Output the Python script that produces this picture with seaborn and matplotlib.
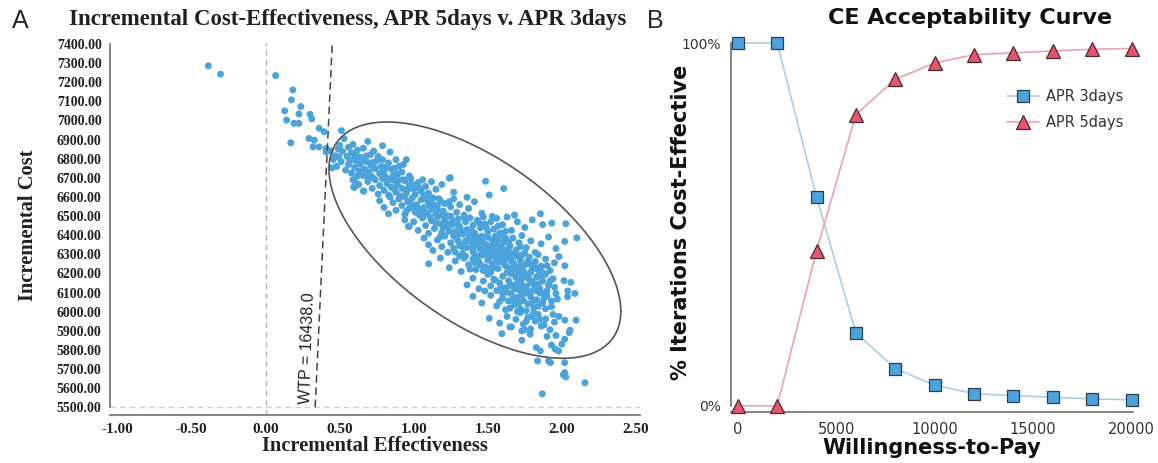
import numpy as np
import pandas as pd
import matplotlib
matplotlib.use("Agg")
import matplotlib.pyplot as plt
import seaborn as sns

# ---- Panel A: incremental cost / effectiveness iterations ----
pts_tail = [(-0.386, 7286), (-0.304, 7242), (0.068, 7235), (0.184, 7160), (0.175, 7108),
            (0.129, 7050), (0.238, 7073), (0.142, 7002), (0.192, 6985), (0.225, 6985),
            (0.225, 7034), (0.300, 7032), (0.312, 7008), (0.170, 6883), (0.293, 6906),
            (0.329, 6897), (0.320, 6862), (0.362, 6959), (0.395, 6941), (0.362, 6862),
            (0.410, 6854), (0.408, 6836), (0.438, 6841), (0.512, 6947), (0.458, 6796),
            (0.449, 6752), (0.493, 6810)]
pts_6800 = [(0.47, 6815), (0.49, 6850), (0.50, 6870), (0.52, 6838), (0.53, 6905), (0.55, 6812),
            (0.56, 6860), (0.58, 6830), (0.59, 6875), (0.61, 6820), (0.62, 6845), (0.64, 6808),
            (0.66, 6855), (0.69, 6890), (0.71, 6822), (0.73, 6840), (0.76, 6812), (0.79, 6868),
            (0.84, 6835), (0.57, 6790), (0.60, 6802)]
pts_6700 = [(0.48, 6760), (0.51, 6785), (0.54, 6740), (0.56, 6770), (0.58, 6725), (0.60, 6755),
            (0.61, 6790), (0.63, 6735), (0.64, 6770), (0.66, 6712), (0.67, 6745), (0.68, 6785),
            (0.70, 6730), (0.71, 6765), (0.72, 6705), (0.74, 6748), (0.75, 6790), (0.77, 6722),
            (0.78, 6760), (0.80, 6735), (0.81, 6705), (0.83, 6778), (0.85, 6745), (0.86, 6712),
            (0.88, 6795), (0.90, 6760), (0.92, 6730), (0.95, 6795), (0.97, 6710), (0.69, 6700),
            (0.65, 6795), (0.79, 6795), (0.87, 6750), (0.93, 6770), (0.62, 6708)]
pts_6600 = [(0.59, 6690), (0.60, 6650), (0.63, 6665), (0.66, 6630), (0.69, 6680), (0.72, 6645),
            (0.74, 6690), (0.76, 6615), (0.77, 6660), (0.79, 6695), (0.80, 6635), (0.82, 6670),
            (0.83, 6610), (0.85, 6650), (0.86, 6688), (0.88, 6625), (0.89, 6665), (0.91, 6605),
            (0.92, 6645), (0.94, 6685), (0.95, 6620), (0.97, 6660), (0.98, 6695), (1.00, 6640),
            (1.01, 6612), (1.03, 6675), (1.05, 6630), (1.06, 6690), (1.08, 6655), (1.10, 6620),
            (1.12, 6680), (1.15, 6640), (1.19, 6665), (1.24, 6698), (1.27, 6625), (0.84, 6600),
            (0.90, 6690), (0.96, 6640), (1.02, 6655), (1.07, 6610)]
pts_6500 = [(0.77, 6580), (0.80, 6545), (0.83, 6512), (0.86, 6570), (0.88, 6530), (0.90, 6590),
            (0.92, 6555), (0.94, 6508), (0.96, 6575), (0.97, 6540), (0.99, 6595), (1.01, 6520),
            (1.02, 6560), (1.04, 6505), (1.05, 6585), (1.07, 6545), (1.09, 6515), (1.10, 6570),
            (1.12, 6535), (1.13, 6595), (1.15, 6510), (1.16, 6555), (1.18, 6580), (1.20, 6525),
            (1.21, 6565), (1.23, 6502), (1.25, 6548), (1.27, 6590), (1.29, 6520), (1.31, 6560),
            (1.34, 6505), (1.37, 6540), (1.41, 6575), (1.46, 6515), (1.00, 6550), (1.08, 6590),
            (1.14, 6540), (1.19, 6505), (1.24, 6575), (0.95, 6525), (1.06, 6530), (1.11, 6552),
            (1.17, 6590), (1.36, 6598), (1.51, 6610), (1.485, 6682), (1.608, 6644), (1.247, 6701),
            (0.964, 6446), (0.595, 6652), (0.663, 6631), (0.603, 6679)]
pts_6400 = [(0.94, 6480), (0.97, 6445), (1.00, 6470), (1.03, 6425), (1.06, 6490), (1.08, 6450),
            (1.10, 6410), (1.12, 6475), (1.14, 6435), (1.16, 6495), (1.18, 6460), (1.19, 6415),
            (1.21, 6480), (1.23, 6440), (1.25, 6498), (1.26, 6455), (1.28, 6420), (1.30, 6485),
            (1.31, 6445), (1.33, 6405), (1.35, 6470), (1.36, 6430), (1.38, 6490), (1.40, 6452),
            (1.41, 6412), (1.43, 6478), (1.45, 6438), (1.47, 6495), (1.48, 6458), (1.50, 6418),
            (1.52, 6470), (1.54, 6432), (1.56, 6488), (1.58, 6410), (1.60, 6455), (1.63, 6495),
            (1.66, 6425), (1.70, 6470), (1.75, 6440), (1.80, 6480), (1.87, 6455), (1.22, 6460),
            (1.29, 6402), (1.34, 6495), (1.39, 6425), (1.44, 6465), (1.49, 6440), (1.53, 6498),
            (1.57, 6448), (1.62, 6420), (1.68, 6505), (1.855, 6512), (1.932, 6463), (2.027, 6460)]
pts_6300 = [(1.07, 6385), (1.10, 6350), (1.13, 6320), (1.16, 6375), (1.19, 6340), (1.21, 6395),
            (1.23, 6310), (1.25, 6360), (1.27, 6330), (1.29, 6385), (1.31, 6345), (1.33, 6305),
            (1.35, 6370), (1.36, 6335), (1.38, 6392), (1.40, 6315), (1.42, 6355), (1.43, 6380),
            (1.45, 6325), (1.47, 6360), (1.48, 6302), (1.50, 6390), (1.51, 6340), (1.53, 6372),
            (1.55, 6318), (1.56, 6352), (1.58, 6395), (1.60, 6330), (1.61, 6365), (1.63, 6308),
            (1.65, 6345), (1.67, 6385), (1.69, 6322), (1.71, 6360), (1.73, 6398), (1.76, 6335),
            (1.79, 6370), (1.82, 6310), (1.86, 6355), (1.91, 6390), (1.96, 6330), (2.019, 6367),
            (2.101, 6386), (1.34, 6350), (1.41, 6300), (1.46, 6395), (1.52, 6310), (1.57, 6375),
            (1.62, 6385), (1.66, 6302), (1.72, 6340), (1.75, 6308), (1.39, 6365), (1.44, 6340),
            (1.54, 6345), (1.64, 6362), (1.18, 6392), (1.28, 6312)]
pts_6200 = [(1.101, 6250), (1.18, 6280), (1.24, 6230), (1.28, 6265), (1.32, 6210), (1.35, 6290),
            (1.37, 6245), (1.40, 6275), (1.42, 6220), (1.44, 6260), (1.46, 6295), (1.48, 6235),
            (1.50, 6270), (1.52, 6205), (1.53, 6250), (1.55, 6285), (1.57, 6225), (1.59, 6262),
            (1.60, 6298), (1.62, 6240), (1.64, 6278), (1.65, 6212), (1.67, 6255), (1.69, 6290),
            (1.70, 6230), (1.72, 6268), (1.74, 6208), (1.76, 6248), (1.78, 6285), (1.80, 6222),
            (1.82, 6262), (1.84, 6298), (1.86, 6238), (1.89, 6275), (1.92, 6215), (1.95, 6255),
            (1.98, 6288), (2.02, 6240), (1.47, 6215), (1.54, 6230), (1.58, 6292), (1.63, 6205),
            (1.68, 6225), (1.73, 6240), (1.77, 6265), (1.81, 6245), (1.85, 6210), (1.61, 6270),
            (1.66, 6285), (1.71, 6202), (1.56, 6258), (1.79, 6205), (1.38, 6222), (1.43, 6290),
            (1.90, 6240)]
pts_6100 = [(1.36, 6140), (1.40, 6175), (1.44, 6120), (1.47, 6160), (1.50, 6195), (1.52, 6135),
            (1.54, 6170), (1.56, 6110), (1.58, 6150), (1.60, 6185), (1.62, 6125), (1.64, 6162),
            (1.66, 6198), (1.67, 6140), (1.69, 6178), (1.71, 6115), (1.72, 6155), (1.74, 6190),
            (1.76, 6130), (1.78, 6168), (1.79, 6105), (1.81, 6145), (1.83, 6182), (1.85, 6122),
            (1.87, 6160), (1.89, 6195), (1.91, 6138), (1.94, 6172), (1.951, 6127), (2.014, 6162),
            (2.06, 6153), (2.04, 6108), (1.63, 6102), (1.68, 6118), (1.73, 6172), (1.77, 6195),
            (1.82, 6110), (1.86, 6185), (1.70, 6145), (1.75, 6112), (1.59, 6128), (1.65, 6135),
            (1.80, 6158), (1.48, 6108)]
pts_6000 = [(1.40, 6080), (1.46, 6045), (1.52, 6085), (1.56, 6030), (1.60, 6070), (1.62, 6010),
            (1.64, 6055), (1.66, 6092), (1.68, 6035), (1.70, 6075), (1.72, 6015), (1.74, 6058),
            (1.75, 6095), (1.77, 6040), (1.79, 6078), (1.81, 6020), (1.83, 6062), (1.85, 6098),
            (1.87, 6045), (1.90, 6082), (1.93, 6025), (1.97, 6065), (2.038, 6078), (2.088, 6095),
            (1.58, 6052), (1.71, 6045), (1.76, 6005), (1.80, 6050), (1.84, 6028), (1.88, 6070),
            (1.67, 6062), (1.73, 6088)]
pts_5900 = [(1.51, 5965), (1.58, 5940), (1.63, 5975), (1.66, 5920), (1.69, 5960), (1.72, 5995),
            (1.74, 5935), (1.77, 5970), (1.79, 5910), (1.82, 5950), (1.84, 5985), (1.86, 5925),
            (1.89, 5962), (1.92, 5905), (1.95, 5945), (1.98, 5975), (2.02, 5955), (2.055, 5903),
            (2.096, 5955), (1.81, 5995), (1.75, 5905), (1.88, 5930), (1.94, 5985)]
pts_5800 = [(1.595, 5885), (1.649, 5920), (1.73, 5899), (1.786, 5882), (1.827, 5812), (1.73, 5850),
            (1.90, 5870), (1.93, 5825), (1.956, 5803), (1.978, 5794), (2.019, 5856), (2.05, 5890),
            (1.855, 5794), (2.00, 5830), (1.96, 5875)]
pts_low = [(1.836, 5742), (1.91, 5742), (1.923, 5733), (2.019, 5733), (2.019, 5681),
           (2.027, 5658), (2.156, 5628), (1.868, 5570), (2.01, 5670)]
# extra points filling the dense middle of the cloud
pts_core = [(0.68, 6815), (0.72, 6780), (0.81, 6755), (0.89, 6720), (0.93, 6690), (0.99, 6665),
            (1.04, 6645), (1.09, 6600), (1.13, 6560), (1.17, 6525), (1.22, 6500), (1.26, 6475),
            (1.30, 6455), (1.32, 6425), (1.37, 6405), (1.39, 6385), (1.42, 6395), (1.46, 6372),
            (1.49, 6350), (1.53, 6328), (1.57, 6315), (1.59, 6340), (1.63, 6285), (1.66, 6262),
            (1.68, 6245), (1.71, 6235), (1.74, 6215), (1.77, 6178), (1.79, 6150), (1.82, 6128),
            (1.84, 6145), (1.86, 6100), (1.88, 6085), (1.90, 6110), (1.78, 6095), (1.74, 6135),
            (1.70, 6190), (1.65, 6225), (1.61, 6250), (1.57, 6275), (1.52, 6290), (1.48, 6325),
            (1.44, 6360), (1.40, 6335), (1.36, 6370), (1.33, 6340), (1.30, 6370), (1.27, 6395),
            (1.24, 6420), (1.20, 6440), (1.15, 6462), (1.11, 6495), (1.06, 6510), (1.03, 6540),
            (0.98, 6565), (0.94, 6600), (0.87, 6640), (0.84, 6690), (0.78, 6725), (0.73, 6760),
            (1.55, 6395), (1.59, 6410), (1.64, 6330), (1.69, 6310), (1.73, 6295), (1.78, 6250),
            (1.83, 6225), (1.87, 6205), (1.92, 6160), (1.96, 6095), (1.93, 6055), (1.89, 6015),
            (1.85, 5960), (1.80, 5975), (1.76, 5950), (1.70, 6000), (1.65, 6018), (1.60, 6095),
            (1.55, 6165), (1.51, 6225), (1.45, 6245), (1.41, 6255), (1.34, 6280), (1.31, 6290)]

wtp_threshold = 16438.0

# 95% ellipse drawn around the cloud (centre, half-widths, phase)
ell_center = (1.413, 6374)
ell_half = (0.985, 618)
ell_phase_deg = 127

# ---- Panel B: CE acceptability curve ----
wtp_levels = [0, 2000, 4000, 6000, 8000, 10000, 12000, 14000, 16000, 18000, 20000]
apr3_pct = [100, 100, 57.6, 20.1, 10.3, 5.7, 3.4, 2.8, 2.4, 1.9, 1.7]
apr5_pct = [0, 0, 42.7, 80.3, 90.0, 94.5, 96.8, 97.3, 97.8, 98.3, 98.5]

sns.set_style("white")
plt.rcParams["font.family"] = ["DejaVu Sans"]

all_pts = (pts_tail + pts_6800 + pts_6700 + pts_6600 + pts_6500 + pts_6400 + pts_6300
           + pts_6200 + pts_6100 + pts_6000 + pts_5900 + pts_5800 + pts_low + pts_core)
ice = pd.DataFrame(all_pts, columns=["eff", "cost"])

fig = plt.figure(figsize=(11.58, 4.63), dpi=100)
axA = fig.add_axes([0.095, 0.104, 0.458, 0.803])
axB = fig.add_axes([0.631, 0.110, 0.347, 0.797])

serif = ["Liberation Serif", "DejaVu Serif"]
spine_col = "#7a7a7a"

# --- panel A ---
axA.axvline(0, color="#b5b5b5", lw=1, ls=(0, (4, 3)), zorder=1)
axA.axhline(5500, color="#cfcfcf", lw=1, ls=(0, (4, 3)), zorder=1)
sns.scatterplot(data=ice, x="eff", y="cost", ax=axA, color="#4ba3dc", s=25,
                edgecolor="none", linewidth=0, zorder=3)

wtp_x = np.array([5500, 7400]) / wtp_threshold
axA.plot(wtp_x, wtp_x * wtp_threshold, color="#444444", lw=1.1, ls=(0, (5, 3)), zorder=4)
axA.text(0.285, 5810, "WTP = 16438.0", rotation=88, ha="center", va="center",
         fontsize=11.5, family=["Liberation Sans", "DejaVu Sans"], color="#222222", zorder=5)

t = np.linspace(0, 2 * np.pi, 300)
ph = np.deg2rad(ell_phase_deg)
axA.plot(ell_center[0] + ell_half[0] * np.cos(t),
         ell_center[1] + ell_half[1] * np.cos(t - ph),
         color="#555555", lw=1.2, zorder=4)

axA.set_xlim(-1.05, 2.53)
axA.set_ylim(5460, 7405)
axA.set_xticks(np.arange(-1.0, 2.51, 0.5))
axA.set_yticks(np.arange(5500, 7401, 100))
axA.set_xticklabels([f"{v:.2f}" for v in np.arange(-1.0, 2.51, 0.5)])
axA.set_yticklabels([f"{v:.2f}" for v in np.arange(5500, 7401, 100)])
for lab in axA.get_xticklabels() + axA.get_yticklabels():
    lab.set_family(serif)
    lab.set_fontweight("bold")
    lab.set_color("#222222")
axA.tick_params(axis="x", direction="in", length=6, color="#c8c8c8", labelsize=11, pad=6)
axA.tick_params(axis="y", direction="out", length=4, color="#c8c8c8", labelsize=10, pad=2)
sns.despine(ax=axA)
axA.spines["left"].set_bounds(5500, 7400)
for s in ("left", "bottom"):
    axA.spines[s].set_color(spine_col)
    axA.spines[s].set_linewidth(1.3)
axA.set_xlabel("Incremental Effectiveness", family=serif, fontweight="bold",
               fontsize=14.8, labelpad=0, color="#222222")
axA.set_ylabel("Incremental Cost", family=serif, fontweight="bold",
               fontsize=14.8, color="#222222")
axA.yaxis.set_label_coords(-0.135, 0.51)

fig.text(0.300, 0.958, "Incremental Cost-Effectiveness, APR 5days v. APR 3days",
         family=serif, fontweight="bold", fontsize=16.5, ha="center", va="center",
         color="#222222")
fig.text(0.010, 0.955, "A", family=["Liberation Sans", "DejaVu Sans"], fontsize=18,
         ha="left", va="center")
fig.text(0.559, 0.955, "B", family=["Liberation Sans", "DejaVu Sans"], fontsize=18,
         ha="left", va="center")

# --- panel B ---
sns.lineplot(x=wtp_levels, y=apr3_pct, ax=axB, color="#a9cfe6", lw=1.2, marker="s",
             markersize=9, markerfacecolor="#4ba3dc", markeredgecolor="#2b3f52",
             markeredgewidth=0.9, label="APR 3days", clip_on=False, zorder=3)
sns.lineplot(x=wtp_levels, y=apr5_pct, ax=axB, color="#eaa3ad", lw=1.2, marker="^",
             markersize=10, markerfacecolor="#e8546c", markeredgecolor="#4a2a2e",
             markeredgewidth=0.9, label="APR 5days", clip_on=False, zorder=3)

axB.set_xlim(-360, 20050)
axB.set_ylim(-1.7, 100)
axB.set_xticks([0, 5000, 10000, 15000, 20000])
axB.set_yticks([0, 100])
axB.set_yticklabels(["0%", "100%"])
axB.tick_params(axis="x", direction="out", length=4, color="#c8c8c8", labelsize=10.5,
                labelcolor="#333333", pad=3)
axB.tick_params(axis="y", direction="out", length=4, color="#c8c8c8", labelsize=10,
                labelcolor="#333333", pad=3)
sns.despine(ax=axB)
axB.spines["left"].set_bounds(0, 100)
for s in ("left", "bottom"):
    axB.spines[s].set_color(spine_col)
    axB.spines[s].set_linewidth(1.3)
axB.set_xlabel("Willingness-to-Pay", fontweight="bold", fontsize=15, labelpad=1,
               color="#111111")
axB.set_ylabel("% Iterations Cost-Effective", fontweight="bold", fontsize=15,
               color="#111111")
axB.yaxis.set_label_coords(-0.100, 0.515)
fig.text(0.838, 0.962, "CE Acceptability Curve", fontweight="bold", fontsize=16,
         ha="center", va="center", color="#111111")

leg = axB.legend(loc="upper right", bbox_to_anchor=(1.01, 0.91), frameon=False,
                 fontsize=10.5, handlelength=2.2, labelspacing=0.75, handletextpad=0.5)
for txt in leg.get_texts():
    txt.set_color("#333333")

fig.savefig("out.png", dpi=100)
